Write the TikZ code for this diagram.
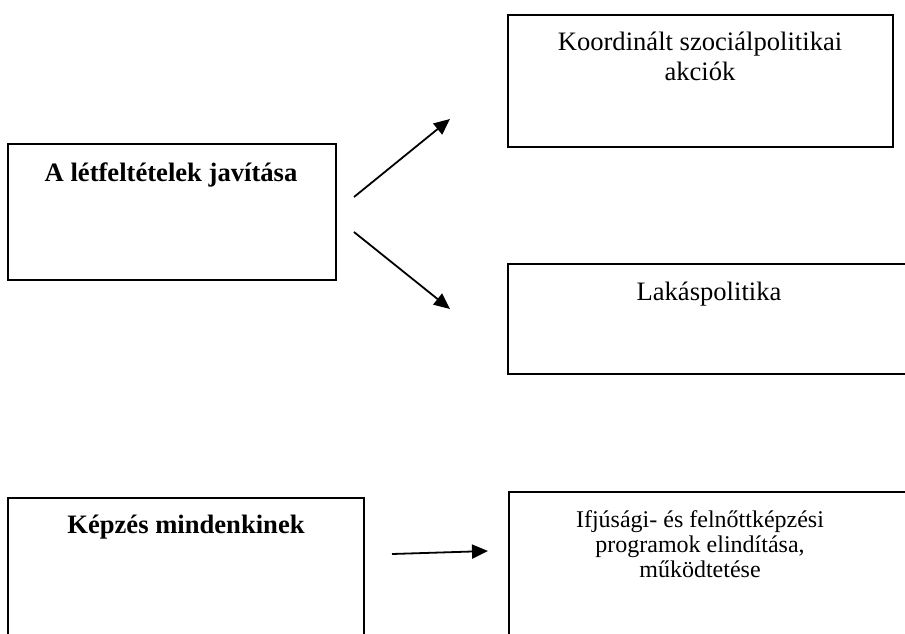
\documentclass[tikz,border=0pt]{standalone}
\usepackage{fontspec}
\setmainfont{Liberation Serif}
\usetikzlibrary{arrows.meta}
\begin{document}
\begin{tikzpicture}[x=1pt,y=-1pt,
  boxnode/.style={draw=black,line width=1.8pt,inner sep=0pt,anchor=north west},
  bigtxt/.style={font=\fontsize{26.6}{30}\selectfont,align=center,inner sep=0pt,anchor=base},
  bigbold/.style={font=\fontsize{26.6}{30}\selectfont\bfseries,align=center,inner sep=0pt,anchor=base},
  smalltxt/.style={font=\fontsize{24}{25}\selectfont,align=center,inner sep=0pt,anchor=base},
  arr/.style={line width=1.8pt,-{Triangle[length=16pt,width=14pt]}}]
\useasboundingbox (0,0) rectangle (905,633);
\clip (0,0) rectangle (905,633);
% boxes
\node[boxnode,minimum width=328pt,minimum height=136pt] (b1) at (7,143) {};
\node[boxnode,minimum width=385pt,minimum height=132pt] (b2) at (507,14) {};
\node[boxnode,minimum width=404pt,minimum height=110pt] (b3) at (507,263) {};
\node[boxnode,minimum width=356pt,minimum height=180pt] (b4) at (7,497) {};
\node[boxnode,minimum width=404pt,minimum height=190pt] (b5) at (508,491) {};
% texts (base anchor = baseline of last line)
\node[bigbold] (t1) at (171,181) {A létfeltételek javítása};
\node[bigtxt] (t2) at (700,80) {Koordinált szociálpolitikai\\akciók};
\node[bigtxt] (t3) at (709,300) {Lakáspolitika};
\node[bigbold] (t4) at (186,533) {Képzés mindenkinek};
\node[smalltxt] (t5) at (700,577) {Ifjúsági- és felnőttképzési\\programok elindítása,\\működtetése};
% arrow endpoints
\coordinate (a1s) at (354,197);
\coordinate (a1e) at (450,119);
\coordinate (a2s) at (354,232);
\coordinate (a2e) at (450,309);
\coordinate (a3s) at (392,554);
\coordinate (a3e) at (488,551);
\draw[arr] (a1s) -- (a1e);
\draw[arr] (a2s) -- (a2e);
\draw[arr] (a3s) -- (a3e);
\end{tikzpicture}
\end{document}
